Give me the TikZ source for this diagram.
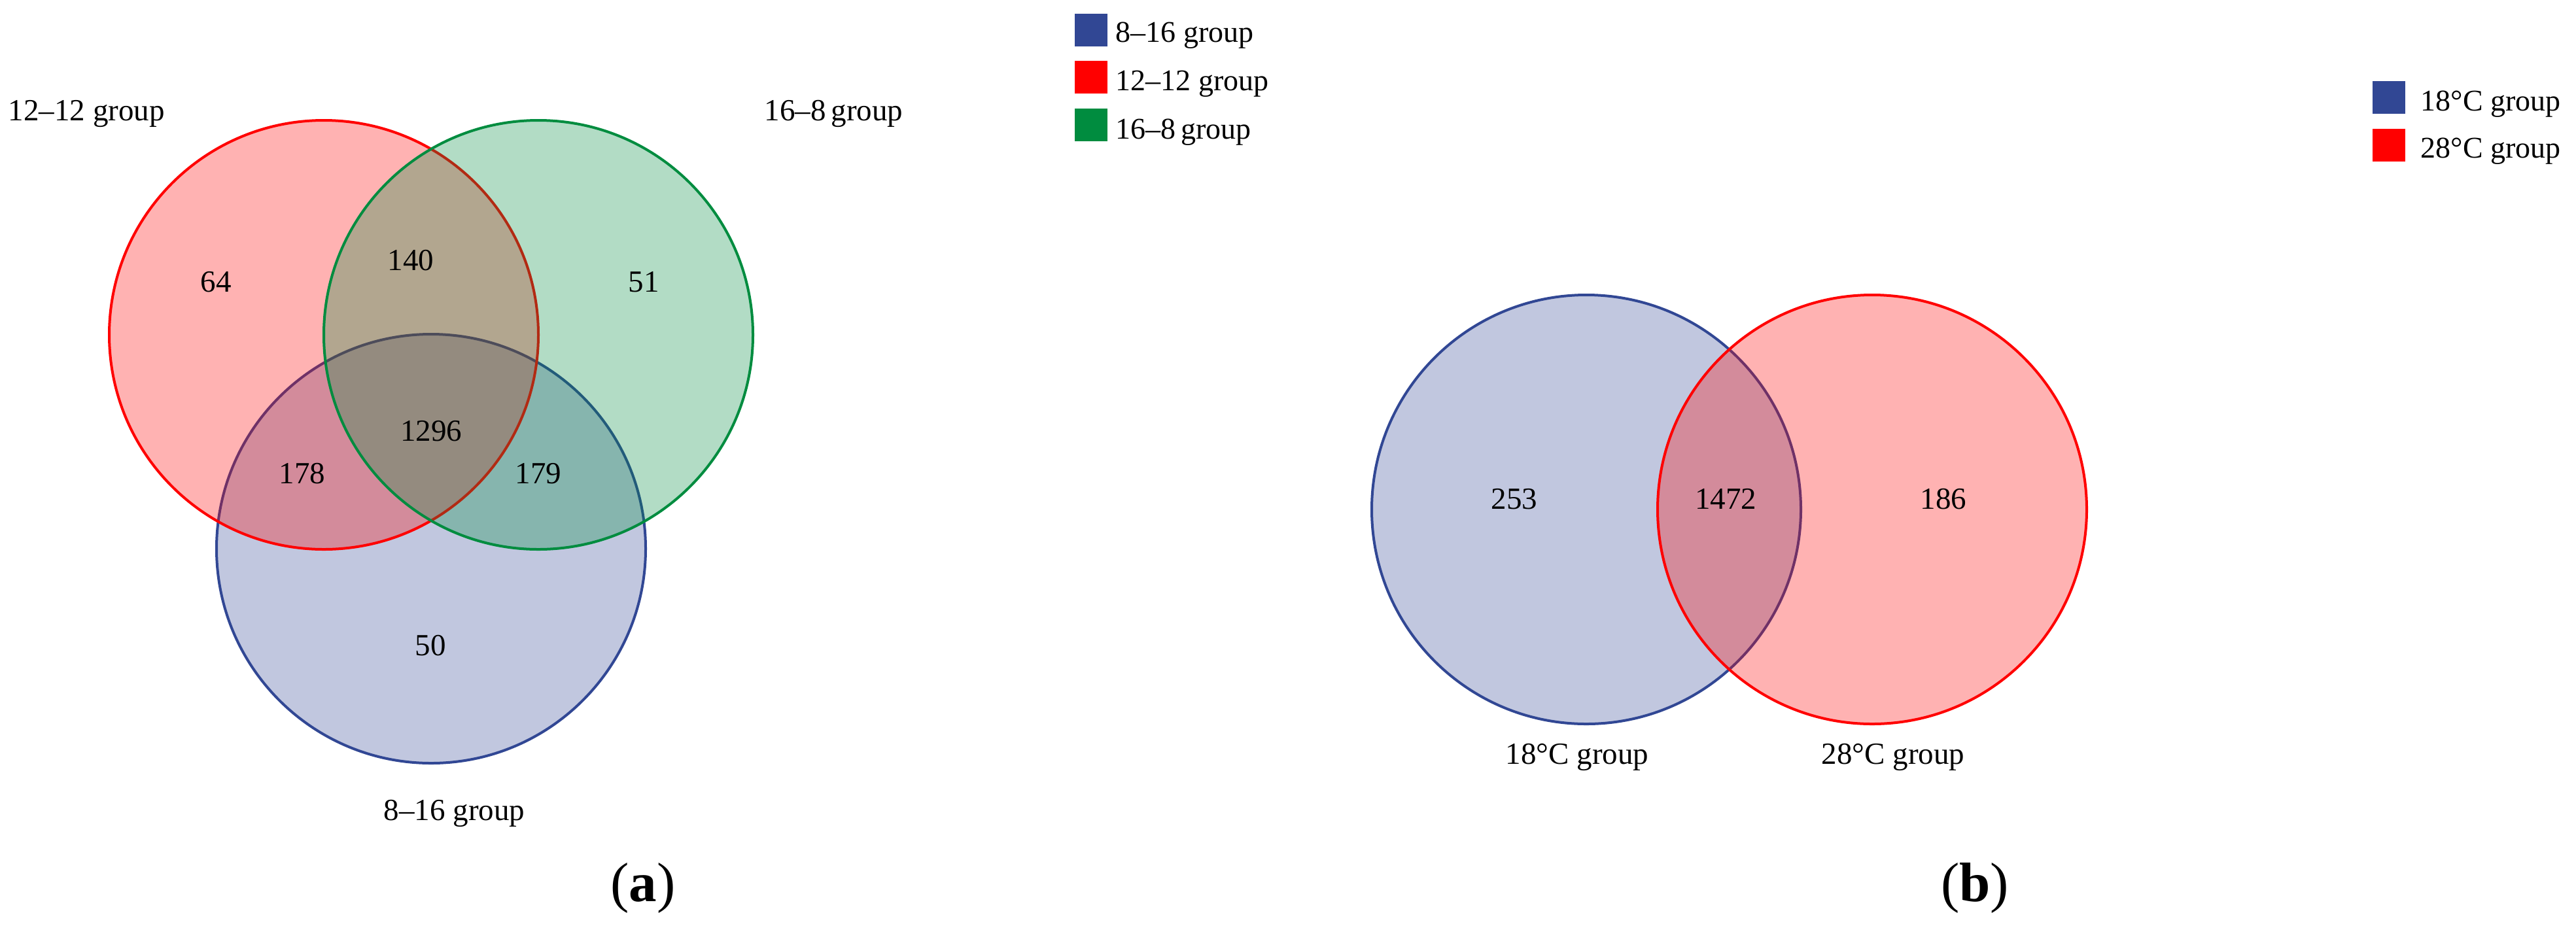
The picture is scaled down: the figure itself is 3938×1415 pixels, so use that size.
\documentclass[tikz,border=0pt]{standalone}
\usepackage{fontspec}
\setmainfont{Liberation Serif}
\definecolor{vblue}{RGB}{49,71,148}
\definecolor{vred}{RGB}{255,0,0}
\definecolor{vgreen}{RGB}{0,140,63}
\begin{document}
\begin{tikzpicture}[x=0.25pt,y=-0.25pt,
  venn/.style={circle, minimum size=164pt, inner sep=0pt, line width=1pt, fill opacity=0.3},
  lbl/.style={font=\fontsize{11.75pt}{14pt}\selectfont, inner sep=0pt},
  num/.style={lbl, anchor=center},
  keybox/.style={minimum size=12.5pt, inner sep=0pt},
  keytxt/.style={font=\fontsize{11.5pt}{14pt}\selectfont, inner sep=0pt, anchor=base west},
  panelcap/.style={font=\fontsize{21.25pt}{25pt}\selectfont, inner sep=0pt, anchor=base}]
\useasboundingbox (0,0) rectangle (3938,1415);
% ---------- panel (a) ----------
\node[venn, draw=vblue, fill=vblue] (c816) at (659,839) {};
\node[venn, draw=vred, fill=vred] (c1212) at (495,512) {};
\node[venn, draw=vgreen, fill=vgreen] (c168) at (823,512) {};
\node[num] (n64) at (330,431) {64};
\node[num] (n140) at (628,398) {140};
\node[num] (n51) at (984,431) {51};
\node[num] (n1296) at (659,659) {1296};
\node[num] (n178) at (462,724) {178};
\node[num] (n179) at (823,724) {179};
\node[num] (n50) at (658,987) {50};
\node[lbl, anchor=base west] (l1212) at (12,184) {12–12 group};
\node[lbl, anchor=base west] (l168) at (1168,184) {16–8\,group};
\node[lbl, anchor=base west] (l816) at (586,1254) {8–16 group};
% legend (a)
\node[keybox, fill=vblue] (ka1) at (1668,45.5) {};
\node[keybox, fill=vred] (ka2) at (1668,118) {};
\node[keybox, fill=vgreen] (ka3) at (1668,190.5) {};
\node[keytxt] (ta1) at (1705,64) {8–16 group};
\node[keytxt] (ta2) at (1705,138) {12–12 group};
\node[keytxt] (ta3) at (1705,212) {16–8\,group};
\node[panelcap] (capa) at (983,1378) {(\textbf{a})};
% ---------- panel (b) ----------
\node[venn, draw=vblue, fill=vblue] (c18) at (2425,779) {};
\node[venn, draw=vred, fill=vred] (c28) at (2862,779) {};
\node[num] (n253) at (2315,763) {253};
\node[num] (n1472) at (2638,763) {1472};
\node[num] (n186) at (2971,763) {186};
\node[lbl, anchor=base] (l18) at (2411,1168) {18°C group};
\node[lbl, anchor=base] (l28) at (2894,1168) {28°C group};
% legend (b)
\node[keybox, fill=vblue] (kb1) at (3651.5,149) {};
\node[keybox, fill=vred] (kb2) at (3651.5,222) {};
\node[keytxt] (tb1) at (3700,169) {18°C group};
\node[keytxt] (tb2) at (3700,241) {28°C group};
\node[panelcap] (capb) at (3019,1378) {(\textbf{b})};
\end{tikzpicture}
\end{document}
